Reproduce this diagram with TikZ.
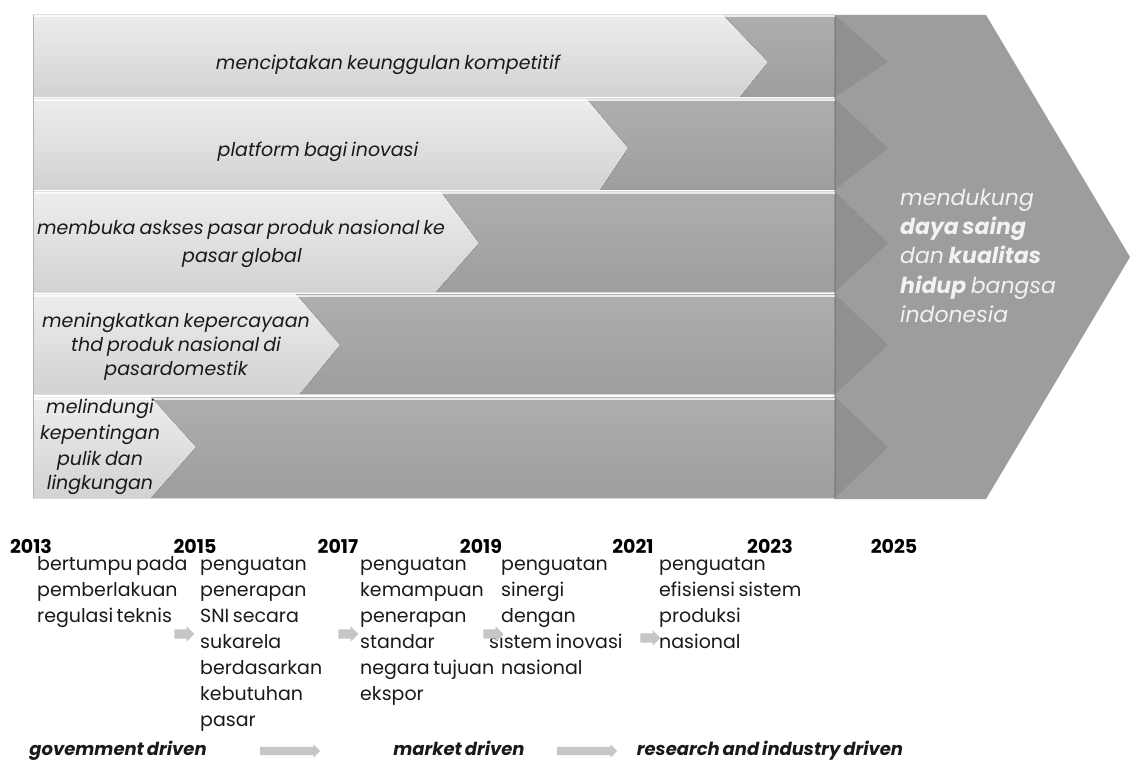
\documentclass[tikz,border=0pt]{standalone}
\usepackage{fontspec}
\setmainfont{Poppins}[WordSpace=0.7]
\usetikzlibrary{shapes.arrows}
\definecolor{darkband}{HTML}{9E9E9E}
\definecolor{darkbandtop}{HTML}{AEAEAE}
\definecolor{bigarrow}{HTML}{9D9D9D}
\definecolor{lighttop}{HTML}{EDEDED}
\definecolor{lightbot}{HTML}{D2D2D2}
\definecolor{ink}{HTML}{1A1A1A}
\definecolor{arrowgray}{HTML}{C6C6C6}
\begin{document}
\begin{tikzpicture}[x=1pt,y=-1pt,
  bandtext/.style={inner sep=0pt, anchor=base, text=ink, font=\fontsize{19}{25}\selectfont\itshape},
  bigtext/.style={inner sep=0pt, anchor=base west, text=white!95!black, font=\fontsize{22}{29}\selectfont\itshape},
  coltext/.style={inner sep=0pt, anchor=base west, text=ink, font=\fontsize{19}{26}\selectfont},
  yeartext/.style={inner sep=0pt, anchor=base, text=black, font=\fontsize{19}{26}\selectfont\bfseries},
  drivetext/.style={inner sep=0pt, anchor=base, text=ink, font=\fontsize{18}{24}\selectfont\bfseries\itshape},
  smallarrow/.style={single arrow, fill=arrowgray, draw=none, minimum height=20pt, single arrow head extend=3pt, inner xsep=0pt, inner ysep=4.5pt, text height=0pt, text depth=0pt},
  longarrow/.style={single arrow, fill=arrowgray, draw=none, minimum height=60pt, single arrow head extend=2.5pt, inner xsep=0pt, inner ysep=4pt, text height=0pt, text depth=0pt},
]
\useasboundingbox (0,0) rectangle (1130,762);
\fill[white] (0,0) rectangle (1130,762);

% dark parts of the bands
\foreach \T/\B/\a/\c/\m/\b in {15/97/723/768/62/740, 99/190/587/628/148/600, 192/292/441/479/243/436, 294/394/296/340/345/300, 397/498/151/196/447/151}{
  \fill[top color=darkbandtop, bottom color=darkband] (\a,\T) -- (835,\T) -- (888,\m) -- (835,\B) -- (\b,\B) -- (\c,\m) -- cycle;
}
% big arrow
\fill[bigarrow] (835,15) -- (986,15) -- (1130,257) -- (986,499) -- (835,499) -- cycle;
\draw[black!55, opacity=.45, line width=1.5pt] (835,15) -- (835,499);
% ghost tips and light chevrons
\foreach \T/\B/\a/\c/\m/\b in {15/97/723/768/62/740, 99/190/587/628/148/600, 192/292/441/479/243/436, 294/394/296/340/345/300, 397/498/151/196/447/151}{
  \fill[black, opacity=.08] (835,\T) -- (888,\m) -- (835,\B) -- cycle;
  \fill[top color=lighttop, bottom color=lightbot] (33,\T) -- (\a,\T) -- (\c,\m) -- (\b,\B) -- (33,\B) -- cycle;
  \draw[white, opacity=.75, line width=2pt] (33,\T+1.5) -- (835,\T+1.5);
}
\draw[black!30, line width=.8pt] (33,15) -- (33,498);

% band texts
\node[bandtext] (t1) at (388,70) {menciptakan keunggulan kompetitif};
\node[bandtext] (t2) at (318,157) {platform bagi inovasi};
\node[bandtext] (t3a) at (241,235) {membuka askses pasar produk nasional ke};
\node[bandtext] (t3b) at (242,262) {pasar global};
\node[bandtext] (t4a) at (176,327) {meningkatkan kepercayaan};
\node[bandtext] (t4b) at (176,351) {thd produk nasional di};
\node[bandtext] (t4c) at (176,375) {pasardomestik};
\node[bandtext] (t5a) at (100,413) {melindungi};
\node[bandtext] (t5b) at (100,439) {kepentingan};
\node[bandtext] (t5c) at (100,465) {pulik dan};
\node[bandtext] (t5d) at (100,489) {lingkungan};

% big arrow text
\node[bigtext] (g1) at (900,206) {mendukung};
\node[bigtext] (g2) at (900,235) {\bfseries daya saing};
\node[bigtext] (g3) at (900,264) {dan \textbf{kualitas}};
\node[bigtext] (g4) at (900,293) {\textbf{hidup} bangsa};
\node[bigtext] (g5) at (900,322) {indonesia};

% years
\node[yeartext] (y2013) at (31,553) {2013};
\node[yeartext] (y2015) at (195,553) {2015};
\node[yeartext] (y2017) at (338,553) {2017};
\node[yeartext] (y2019) at (481,553) {2019};
\node[yeartext] (y2021) at (633,553) {2021};
\node[yeartext] (y2023) at (770,553) {2023};
\node[yeartext] (y2025) at (894,553) {2025};

% columns
\foreach \t [count=\i] in {bertumpu pada, pemberlakuan, regulasi teknis}
  \node[coltext] (ca\i) at (37,{570+26*(\i-1)}) {\t};
\foreach \t [count=\i] in {penguatan, penerapan, SNI secara, sukarela, berdasarkan, kebutuhan, pasar}
  \node[coltext] (cb\i) at (200,{570+26*(\i-1)}) {\t};
\foreach \t [count=\i] in {penguatan, kemampuan, penerapan, standar, negara tujuan, ekspor}
  \node[coltext] (cc\i) at (360,{570+26*(\i-1)}) {\t};
\foreach \t/\xx [count=\i] in {penguatan/501, sinergi/501, dengan/501, sistem inovasi/489, nasional/501}
  \node[coltext] (cd\i) at (\xx,{570+26*(\i-1)}) {\t};
\foreach \t [count=\i] in {penguatan, efisiensi sistem, produksi, nasional}
  \node[coltext] (ce\i) at (659,{570+26*(\i-1)}) {\t};

% small arrows
\node[smallarrow] (sa1) at (182,634) {};
\node[smallarrow] (sa2) at (346,634) {};
\node[smallarrow] (sa3) at (491,634) {};
\node[smallarrow] (sa4) at (648,638) {};

% bottom row
\node[drivetext] (d1) at (118,755) {govemment driven};
\node[drivetext] (d2) at (459,755) {market driven};
\node[drivetext] (d3) at (770,755) {research and industry driven};
\node[longarrow] (ba1) at (288,751) {};
\node[longarrow] (ba2) at (585,751) {};
\end{tikzpicture}
\end{document}
